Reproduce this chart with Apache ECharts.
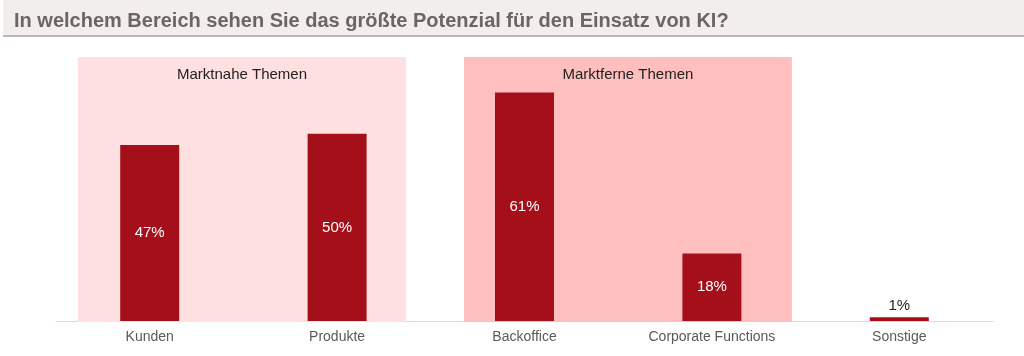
<!DOCTYPE html>
<html>
<head>
<meta charset="utf-8">
<script src="https://cdn.jsdelivr.net/npm/echarts@6/dist/echarts.min.js"></script>
<style>
html,body{margin:0;padding:0;background:#fff;}
#chart{width:1024px;height:356px;}
</style>
</head>
<body>
<div id="chart"></div>
<script>
// ---- data ----
const titleText = 'In welchem Bereich sehen Sie das größte Potenzial für den Einsatz von KI?';
const categories = ['Kunden', 'Produkte', 'Backoffice', 'Corporate Functions', 'Sonstige'];
const values = [47, 50, 61, 18, 1];
const groupNames = ['Marktnahe Themen', 'Marktferne Themen'];
const groupStart = [0, 2];
const groupEnd = [1, 3];

// ---- styles ----
const groupFill = ['#ffe0e0', '#ffbfbf'];
const groupPadLeft = [0.383, 0.323];
const groupPadRight = [0.368, 0.427];
const barColor = '#a50f1a';
const FONT = '"Liberation Sans", Arial, sans-serif';

const groupData = groupNames.map((n, i) => [groupStart[i], groupEnd[i], i]);

const chart = echarts.init(document.getElementById('chart'), null, {renderer: 'canvas'});
chart.setOption({
  animation: false,
  title: {
    text: titleText,
    left: 9, top: 6,
    textStyle: {fontFamily: FONT, fontSize: 20, fontWeight: 'bold', color: '#6e6466'}
  },
  graphic: [
    {type: 'rect', left: 3, top: 0, z: -10, shape: {width: 1021, height: 35}, style: {fill: '#f2eeee'}},
    {type: 'rect', left: 3, top: 35, z: -10, shape: {width: 1021, height: 2}, style: {fill: '#bdb5b5'}}
  ],
  grid: {left: 56, right: 31, top: 57, bottom: 35},
  xAxis: {
    type: 'category',
    data: categories,
    boundaryGap: true,
    axisTick: {show: false},
    axisLine: {lineStyle: {color: '#d9d9d9', width: 1}},
    axisLabel: {fontFamily: FONT, fontSize: 14, color: '#595959', margin: 9}
  },
  yAxis: {
    type: 'value', min: 0, max: 70.5, show: false,
    splitLine: {show: false}
  },
  series: [
    {
      type: 'custom',
      z: 1,
      data: groupData,
      encode: {x: [0, 1]},
      renderItem: function (params, api) {
        const i = api.value(2);
        const s = api.coord([api.value(0), 0]);
        const e = api.coord([api.value(1), 0]);
        const bw = api.size([1, 0])[0];
        const x0 = s[0] - groupPadLeft[i] * bw;
        const x1 = e[0] + groupPadRight[i] * bw;
        const cs = params.coordSys;
        return {
          type: 'group',
          children: [
            {type: 'rect', shape: {x: x0, y: cs.y, width: x1 - x0, height: cs.height + 1},
              style: {fill: groupFill[i]}},
            {type: 'text', x: (x0 + x1) / 2, y: cs.y + 18,
              style: {text: groupNames[i], fill: '#222222', font: '15px ' + FONT,
                align: 'center', verticalAlign: 'middle'}}
          ]
        };
      }
    },
    {
      type: 'bar',
      z: 2,
      data: values.map((v, i) => ({
        value: v,
        label: v < 5 ? {position: 'top', color: '#222222', distance: 4} : {position: 'inside', color: '#ffffff'}
      })),
      barWidth: 59,
      itemStyle: {color: barColor},
      label: {show: true, formatter: '{c}%', fontFamily: FONT, fontSize: 15}
    }
  ]
});
</script>
</body>
</html>
